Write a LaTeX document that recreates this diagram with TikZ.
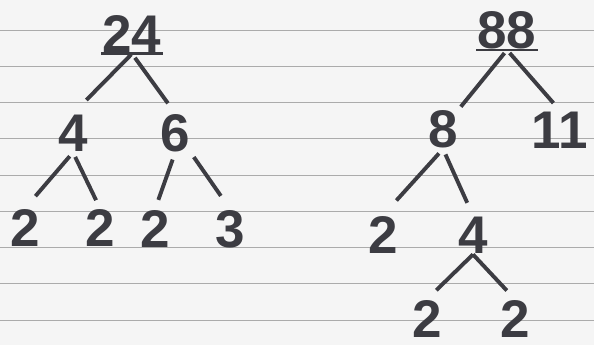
\documentclass[tikz,border=0pt]{standalone}
\usepackage{fontspec}
\setmainfont{Liberation Sans}
\usetikzlibrary{positioning}

\definecolor{paper}{HTML}{F5F5F5}
\definecolor{rule}{HTML}{ABABAB}
\definecolor{ink}{HTML}{3C3C42}

\begin{document}
\begin{tikzpicture}[
    x=1pt, y=-1pt,
    num/.style={
        text=ink,
        inner sep=1pt,
        font=\fontsize{53}{53}\selectfont\bfseries
    },
    branch/.style={draw=ink, line width=3.9pt},
    bar/.style={draw=ink, line width=2.8pt}
]

\useasboundingbox[fill=paper] (0,0) rectangle (594,345);

% ruled paper
\foreach \k in {0,...,8}
    \draw[rule, line width=0.9pt] (0,30+36.25*\k) -- (594,30+36.25*\k);

% tree of 24
\node[num] (n24) at (132,34) {24};
\node[num] (n4) at (73,133) {4};
\node[num] (n6) at (175,133) {6};
\node[num] (l1) at (25,228) {2};
\node[num] (l2) at (100,228) {2};
\node[num] (l3) at (155,229) {2};
\node[num] (l4) at (230,229) {3};

\draw[bar] (n24.south west) -- (n24.south east);

\draw[branch, shorten <=1pt, shorten >=19pt] (n24.south) -- (n4.north);
\draw[branch, shorten <=5pt, shorten >=12pt] (n24.south) -- (n6.north);
\draw[branch, shorten <=5pt, shorten >=16pt] (n4.south) -- (l1.north);
\draw[branch, shorten <=5pt, shorten >=9pt] (n4.south) -- (l2.north);
\draw[branch, shorten <=7pt, shorten >=10pt] (n6.south) -- (l3.north);
\draw[branch, shorten <=5pt, shorten >=16pt] (n6.south east) -- (l4.north);

% tree of 88
\node[num] (n88) at (507,30) {88};
\node[num] (n8) at (443,129) {8};
\node[num] (n11) at (560,130) {11};
\node[num] (m2) at (383,235) {2};
\node[num] (m4) at (473,235) {4};
\node[num] (k1) at (427,319) {2};
\node[num] (k2) at (515,319) {2};

\draw[bar] (n88.south west) -- (n88.south east);

\draw[branch, shorten <=4pt, shorten >=3pt] (n88.south) -- (n8.north east);
\draw[branch, shorten <=4pt, shorten >=10pt] (n88.south) -- (n11.north);
\draw[branch, shorten <=6pt, shorten >=20pt] (n8.south) -- (m2.north);
\draw[branch, shorten <=6pt, shorten >=14pt] (n8.south) -- (m4.north);
\draw[branch, shorten >=13pt] (m4.south) -- (k1.north);
\draw[branch, shorten >=12pt] (m4.south) -- (k2.north);

\end{tikzpicture}
\end{document}
